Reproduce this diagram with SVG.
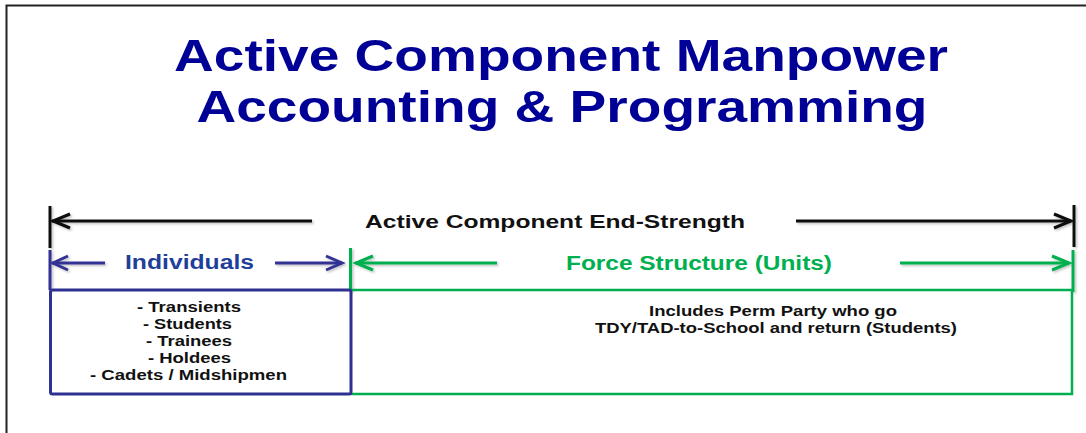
<svg xmlns="http://www.w3.org/2000/svg" width="1086" height="433" viewBox="0 0 1086 433">
  <defs>
    <style>
      .t { font-family: "Liberation Sans", Arial, sans-serif; font-weight: bold; }
      .title { font-size: 44px; fill: #000096; }
      .hdr { font-size: 18.5px; fill: #111; }
      .lst { font-size: 14.5px; fill: #111; }
      .blk { stroke: #111; stroke-width: 3; fill: none; stroke-linecap: butt; }
      .blu { stroke: #333394; stroke-width: 3; fill: none; }
      .grn { stroke: #00B050; stroke-width: 3; fill: none; }
      .grnbox { stroke: #00B050; stroke-width: 2.5; fill: none; }
    </style>
    <filter id="sh" x="-5%" y="-50%" width="110%" height="200%">
      <feDropShadow dx="1.5" dy="1.5" stdDeviation="1" flood-color="#000" flood-opacity="0.25"/>
    </filter>
  </defs>

  <rect x="0" y="0" width="1086" height="433" fill="#fff"/>
  <path d="M6.5,440 V5.5 H1090" fill="none" stroke="#222" stroke-width="2"/>

  <g id="title">
    <text class="t title" x="561" y="71" text-anchor="middle" textLength="774" lengthAdjust="spacingAndGlyphs">Active Component Manpower</text>
    <text class="t title" x="562" y="122" text-anchor="middle" textLength="731" lengthAdjust="spacingAndGlyphs">Accounting &amp; Programming</text>
  </g>

  <g id="connectors" filter="url(#sh)">
    <!-- End-strength black arrow -->
    <line class="blk" x1="50" y1="206" x2="50" y2="248"/>
    <line class="blk" x1="1074" y1="205" x2="1074" y2="247"/>
    <line class="blk" x1="52" y1="221" x2="312" y2="221"/>
    <polyline class="blk" points="70,214 53,221 70,228"/>
    <line class="blk" x1="796" y1="221" x2="1071" y2="221"/>
    <polyline class="blk" points="1054,214 1071,221 1054,228"/>

    <!-- Individuals blue arrows -->
    <line class="blu" x1="50" y1="250" x2="50" y2="290"/>
    <line class="blu" x1="52" y1="263" x2="105" y2="263"/>
    <polyline class="blu" points="68,256 53,263 68,270"/>
    <line class="blu" x1="275" y1="263" x2="342" y2="263"/>
    <polyline class="blu" points="326,256 342,263 326,270"/>

    <!-- Force structure green arrows -->
    <line class="grn" x1="350.5" y1="248" x2="350.5" y2="291"/>
    <line class="grn" x1="355" y1="263" x2="497" y2="263"/>
    <polyline class="grn" points="373,256 356,263 373,270"/>
    <line class="grn" x1="900" y1="263" x2="1069" y2="263"/>
    <polyline class="grn" points="1052,256 1069,263 1052,270"/>
    <line class="grn" x1="1073" y1="250" x2="1073" y2="292"/>
  </g>

  <g id="end-strength">
    <text class="t hdr" x="365" y="227.5" textLength="380" lengthAdjust="spacingAndGlyphs">Active Component End-Strength</text>
  </g>

  <g id="force-structure">
    <text class="t" x="566" y="269.5" font-size="20" fill="#00B050" textLength="266" lengthAdjust="spacingAndGlyphs">Force Structure (Units)</text>
    <path class="grnbox" d="M351,290 H1072 V394 H351"/>
    <text class="t lst" x="773" y="315.5" text-anchor="middle" textLength="248" lengthAdjust="spacingAndGlyphs">Includes Perm Party who go</text>
    <text class="t lst" x="776" y="332.5" text-anchor="middle" textLength="362" lengthAdjust="spacingAndGlyphs">TDY/TAD-to-School and return (Students)</text>
  </g>

  <g id="individuals">
    <text class="t" x="125" y="268.7" font-size="19.5" fill="#1F3F9A" textLength="129" lengthAdjust="spacingAndGlyphs">Individuals</text>
    <rect x="50.5" y="290" width="300.5" height="104" rx="2" fill="none" stroke="#2E3192" stroke-width="3"/>
    <text class="t lst" x="189" y="312" text-anchor="middle" textLength="104" lengthAdjust="spacingAndGlyphs">- Transients</text>
    <text class="t lst" x="187.5" y="329" text-anchor="middle" textLength="89" lengthAdjust="spacingAndGlyphs">- Students</text>
    <text class="t lst" x="189" y="346" text-anchor="middle" textLength="86" lengthAdjust="spacingAndGlyphs">- Trainees</text>
    <text class="t lst" x="189.5" y="363" text-anchor="middle" textLength="83" lengthAdjust="spacingAndGlyphs">- Holdees</text>
    <text class="t lst" x="188.5" y="380" text-anchor="middle" textLength="197" lengthAdjust="spacingAndGlyphs">- Cadets / Midshipmen</text>
  </g>
</svg>
